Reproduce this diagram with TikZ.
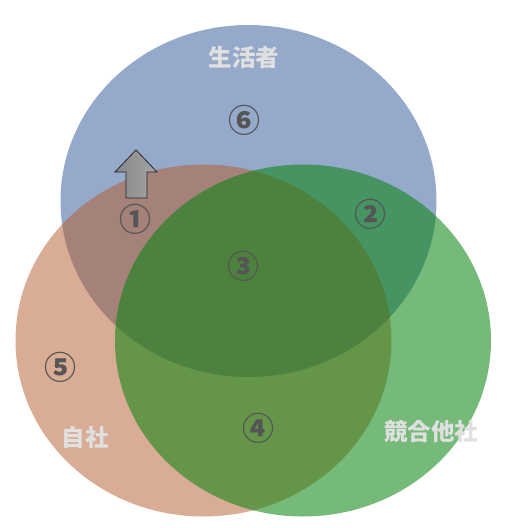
\documentclass[tikz,border=0pt]{standalone}
\usepackage{fontspec}
\newfontfamily\cjk{Noto Sans CJK JP}
\usetikzlibrary{shapes.geometric}
\definecolor{cblue}{HTML}{95AACB}
\definecolor{cbrown}{HTML}{B35B2B}
\definecolor{cgreen}{HTML}{06820D}
\definecolor{numgray}{HTML}{555555}
\definecolor{lblgray}{HTML}{E0E0E0}
\tikzset{
  num/.style={font=\cjk\bfseries\fontsize{32}{32}\selectfont, text=numgray, inner sep=0pt},
  lbl/.style={font=\cjk\bfseries\fontsize{23.5}{23.5}\selectfont, text=lblgray, inner sep=0pt},
  setellipse/.style={ellipse, inner sep=0pt, draw=none, minimum width=376pt, minimum height=352pt}
}
\begin{document}
\begin{tikzpicture}[x=1pt,y=-1pt]
\useasboundingbox (0,0) rectangle (504,528);
\node[setellipse, fill=cblue] (blue) at (248.5,201) {};
\node[setellipse, fill=cbrown, fill opacity=0.5] (brown) at (203.5,340.5) {};
\node[setellipse, fill=cgreen, fill opacity=0.55] (green) at (303,340.5) {};
% arrow
\shade[left color=gray!95, right color=gray!70, draw=black!85, line width=0.8pt]
  (136,150) -- (157,172) -- (147,172) -- (147,198) -- (126,198) -- (126,172) -- (115,172) -- cycle;
\node[lbl] (l1) at (244,58) {生活者};
\node[lbl] (l2) at (85,438) {自社};
\node[lbl] (l3) at (431,432) {競合他社};
\node[num] (n6) at (244,120) {⑥};
\node[num] (n1) at (135,219) {①};
\node[num] (n2) at (370,214) {②};
\node[num] (n3) at (243,266) {③};
\node[num] (n4) at (258,428) {④};
\node[num] (n5) at (61,367) {⑤};
\end{tikzpicture}
\end{document}
